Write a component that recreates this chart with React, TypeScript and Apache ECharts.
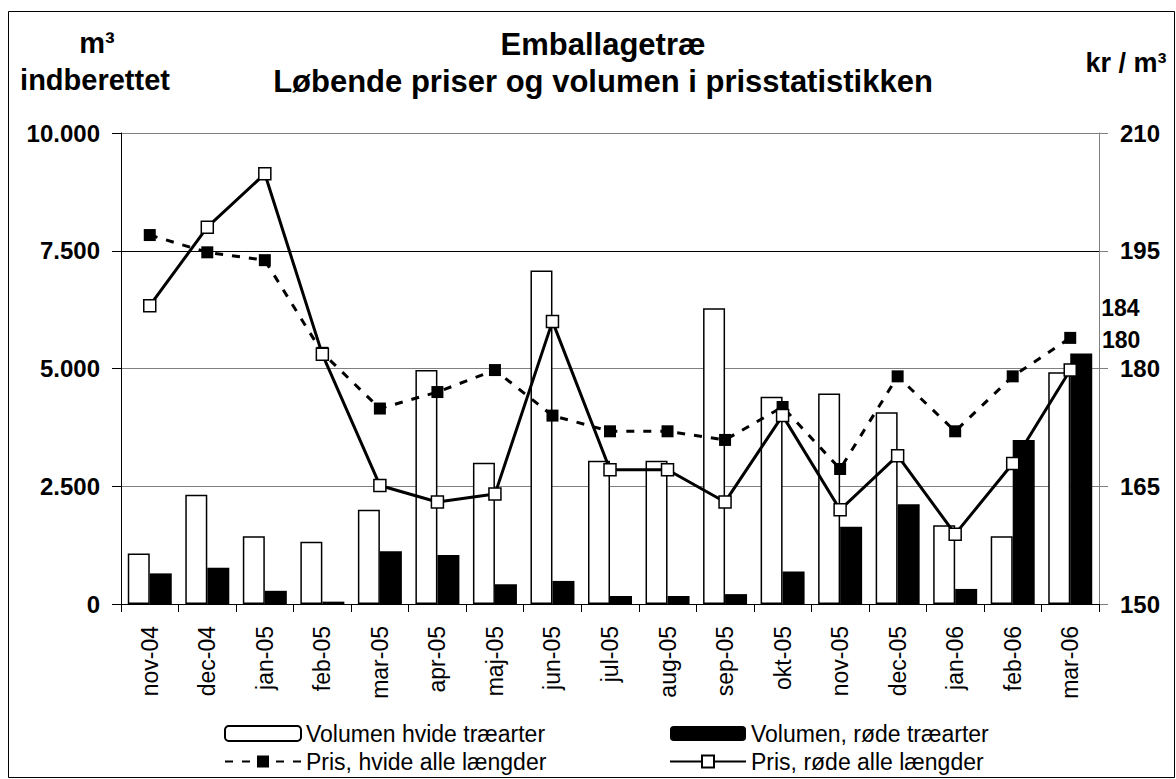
import React, { useEffect, useRef } from "react";
import * as echarts from "echarts";

const categories = ["nov-04", "dec-04", "jan-05", "feb-05", "mar-05", "apr-05", "maj-05", "jun-05", "jul-05", "aug-05", "sep-05", "okt-05", "nov-05", "dec-05", "jan-06", "feb-06", "mar-06"];
const volumenHvide = [1070, 2320, 1440, 1320, 2000, 4970, 3000, 7080, 3040, 3040, 6280, 4400, 4470, 4070, 1670, 1440, 4920];
const volumenRode = [650, 770, 280, 50, 1120, 1040, 420, 490, 170, 170, 210, 690, 1640, 2120, 320, 3480, 5320];
const prisHvide = [197.0, 194.8, 193.8, 182.0, 174.9, 177.0, 179.8, 174.0, 172.0, 172.0, 170.9, 175.1, 167.2, 179.0, 172.0, 179.0, 183.9];
const prisRode = [188.0, 198.0, 204.8, 181.8, 165.1, 163.0, 164.0, 186.0, 167.1, 167.1, 163.0, 174.0, 162.0, 168.9, 158.9, 167.9, 179.8];

const seriesNames = {
  vh: "Volumen hvide træarter",
  vr: "Volumen, røde træarter",
  ph: "Pris, hvide alle længder",
  pr: "Pris, røde alle længder",
};

const FONT = "'Liberation Sans', Arial, Helvetica, sans-serif";

function thousands(v: number) {
  return String(v).replace(/\B(?=(\d{3})+(?!\d))/g, ".");
}

function withLastLabel(values: number[]) {
  const last = values.length - 1;
  return values.map((v, i) =>
    i === last
      ? {
          value: v,
          label: {
            show: true,
            position: "right",
            offset: [20, -30],
            formatter: (p: any) => String(Math.round(p.value)),
            fontFamily: FONT,
            fontSize: 23,
            fontWeight: "bold",
            color: "#000",
          },
        }
      : v
  );
}

export default function App() {
  const ref = useRef<HTMLDivElement>(null);
  useEffect(() => {
    if (!ref.current) return;
    const chart = echarts.init(ref.current, undefined, { renderer: "svg" });
    const legendBase = {
      top: 722,
      orient: "vertical",
      padding: 0,
      itemWidth: 76,
      itemHeight: 15,
      itemGap: 5,
      height: 56,
      textStyle: { fontFamily: FONT, fontSize: 23, color: "#000", lineHeight: 23, padding: [0, 0, 0, 0] },
    };
    const option: any = {
      animation: false,
      backgroundColor: "#fff",
      textStyle: { fontFamily: FONT },
      grid: { left: 121, right: 77, top: 133, bottom: 175, containLabel: false },
      graphic: [
        { type: "rect", shape: { x: 8.5, y: 11.5, width: 1166, height: 766 }, style: { fill: "none", stroke: "#000", lineWidth: 1 }, silent: true },
        { type: "text", x: 603, y: 44, style: { text: "Emballagetræ", font: `bold 31px ${FONT}`, fill: "#000", textAlign: "center", textVerticalAlign: "middle" } },
        { type: "text", x: 603, y: 81, style: { text: "Løbende priser og volumen i prisstatistikken", font: `bold 31px ${FONT}`, fill: "#000", textAlign: "center", textVerticalAlign: "middle" } },
        { type: "text", x: 97, y: 43, style: { text: "m³", font: `bold 29px ${FONT}`, fill: "#000", textAlign: "center", textVerticalAlign: "middle" } },
        { type: "text", x: 95, y: 80, style: { text: "indberettet", font: `bold 29px ${FONT}`, fill: "#000", textAlign: "center", textVerticalAlign: "middle" } },
        { type: "text", x: 1126, y: 63, style: { text: "kr / m³", font: `bold 27px ${FONT}`, fill: "#000", textAlign: "center", textVerticalAlign: "middle" } },
      ],
      legend: [
        { ...legendBase, left: 224, data: [seriesNames.vh, seriesNames.ph] },
        { ...legendBase, left: 669, data: [seriesNames.vr, seriesNames.pr] },
      ],
      xAxis: {
        type: "category",
        data: categories,
        boundaryGap: true,
        axisLine: { lineStyle: { color: "#000", width: 1 } },
        axisTick: { show: true, interval: 0, length: 8, alignWithLabel: false, lineStyle: { color: "#000" } },
        axisLabel: { interval: 0, rotate: 90, margin: 22, fontSize: 23, color: "#000", fontFamily: FONT },
        splitLine: { show: false },
      },
      yAxis: [
        {
          type: "value",
          min: 0,
          max: 10000,
          interval: 2500,
          axisLine: { show: true, lineStyle: { color: "#000", width: 1 } },
          axisTick: { show: true, inside: false, length: 9, lineStyle: { color: "#000" } },
          axisLabel: { formatter: (v: number) => thousands(v), fontSize: 24, fontWeight: "bold", color: "#000", margin: 21, fontFamily: FONT },
          splitLine: { show: true, lineStyle: { color: ["#808080", "#808080", "#808080", "#000000", "#808080"], width: 1 } },
        },
        {
          type: "value",
          min: 150,
          max: 210,
          interval: 15,
          position: "right",
          axisLine: { show: true, lineStyle: { color: "#808080", width: 1 } },
          axisTick: { show: true, inside: false, length: 9, lineStyle: { color: "#808080" } },
          axisLabel: { fontSize: 24, fontWeight: "bold", color: "#000", margin: 21, fontFamily: FONT },
          splitLine: { show: false },
        },
      ],
      series: [
        {
          name: seriesNames.vh,
          type: "bar",
          yAxisIndex: 0,
          data: volumenHvide,
          barWidth: 22,
          barGap: "0%",
          itemStyle: { color: "#fff", borderColor: "#000", borderWidth: 1.5 },
        },
        {
          name: seriesNames.vr,
          type: "bar",
          yAxisIndex: 0,
          data: volumenRode,
          barWidth: 22,
          barGap: "0%",
          itemStyle: { color: "#000", borderColor: "#000", borderWidth: 0 },
        },
        {
          name: seriesNames.ph,
          type: "line",
          yAxisIndex: 1,
          data: withLastLabel(prisHvide),
          symbol: "rect",
          symbolSize: 12,
          lineStyle: { color: "#000", width: 3, type: [8, 9] },
          itemStyle: { color: "#000", borderColor: "#000", borderWidth: 0 },
          z: 3,
        },
        {
          name: seriesNames.pr,
          type: "line",
          yAxisIndex: 1,
          data: withLastLabel(prisRode),
          symbol: "rect",
          symbolSize: 12,
          lineStyle: { color: "#000", width: 3, type: "solid" },
          itemStyle: { color: "#fff", borderColor: "#000", borderWidth: 1.5 },
          z: 4,
        },
      ],
    };
    chart.setOption(option);
    return () => chart.dispose();
  }, []);
  return <div ref={ref} style={{ position: "fixed", left: 0, top: 0, width: 1176, height: 779, background: "#fff" }} />;
}
